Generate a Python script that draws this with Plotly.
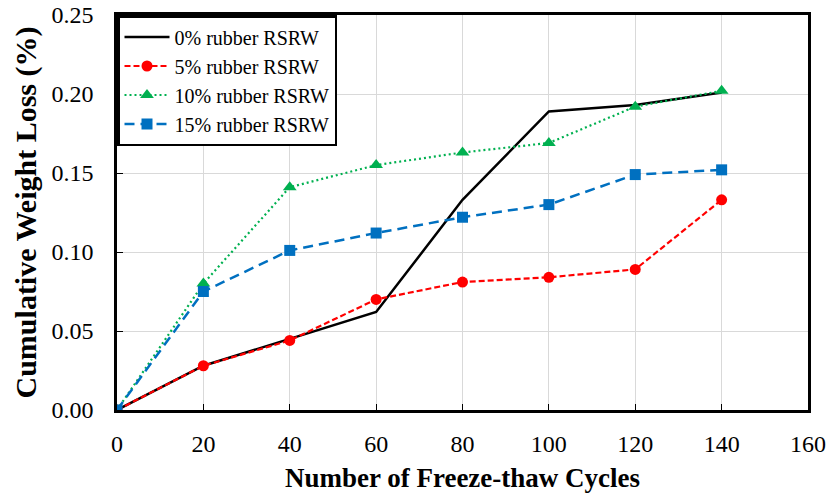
import plotly.graph_objects as go

cycles = [0, 20, 40, 60, 80, 100, 120, 140]
loss_0 = [0.0, 0.028, 0.045, 0.062, 0.133, 0.189, 0.193, 0.201]
loss_5 = [0.0, 0.028, 0.044, 0.070, 0.081, 0.084, 0.089, 0.133]
loss_10 = [0.0, 0.080, 0.141, 0.155, 0.163, 0.169, 0.192, 0.202]
loss_15 = [0.0, 0.075, 0.101, 0.112, 0.122, 0.130, 0.149, 0.152]
names = ["0% rubber RSRW", "5% rubber RSRW", "10% rubber RSRW", "15% rubber RSRW"]

font = "Liberation Serif, Times New Roman, serif"
fig = go.Figure()
fig.add_trace(go.Scatter(x=cycles, y=loss_0, name=names[0], mode="lines",
                         line=dict(color="black", width=2.5)))
fig.add_trace(go.Scatter(x=cycles, y=loss_5, name=names[1], mode="lines+markers",
                         line=dict(color="#FF0000", width=2.2, dash="6px,3px"),
                         marker=dict(symbol="circle", size=11, color="#FF0000")))
fig.add_trace(go.Scatter(x=cycles, y=loss_10, name=names[2], mode="lines+markers",
                         line=dict(color="#00B050", width=2.2, dash="2px,3px"),
                         marker=dict(symbol="triangle-up", size=12, color="#00B050")))
fig.add_trace(go.Scatter(x=cycles, y=loss_15, name=names[3], mode="lines+markers",
                         line=dict(color="#0070C0", width=2.5, dash="10px,6px"),
                         marker=dict(symbol="square", size=11, color="#0070C0")))

axis_common = dict(showgrid=True, gridcolor="#D9D9D9", gridwidth=1,
                   showline=True, linecolor="black", linewidth=2.5, mirror=True,
                   ticks="inside", ticklen=6, tickcolor="black", zeroline=False,
                   automargin=False,
                   tickfont=dict(family=font, size=24, color="black"))
fig.update_xaxes(range=[0, 160], dtick=20, tick0=0, ticklabelstandoff=10,
                 title=dict(text="<b>Number of Freeze-thaw Cycles</b>",
                            font=dict(family=font, size=27, color="black"), standoff=14),
                 **axis_common)
fig.update_yaxes(range=[0, 0.25], dtick=0.05, tick0=0, tickformat=".2f",
                 ticklabelstandoff=16,
                 title=dict(text="<b>Cumulative Weight Loss (%)</b>",
                            font=dict(family=font, size=30, color="black"), standoff=6),
                 **axis_common)
fig.update_layout(width=831, height=493, margin=dict(l=117, r=23, t=15, b=83),
                  plot_bgcolor="white", paper_bgcolor="white",
                  legend=dict(x=0, y=1.0, xanchor="left", yanchor="top",
                              bgcolor="white", bordercolor="black", borderwidth=2.5,
                              font=dict(family=font, size=20, color="black"),
                              tracegroupgap=0, itemwidth=45),
                  showlegend=True)
fig.write_html("out.html")
